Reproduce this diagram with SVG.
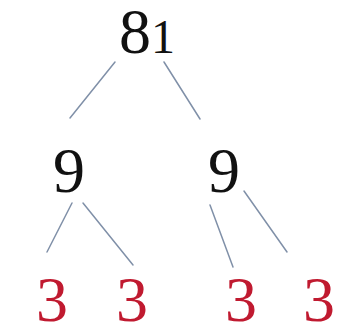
<svg xmlns="http://www.w3.org/2000/svg" width="338" height="327" viewBox="0 0 338 327">
<style>
.n{font-family:"Liberation Serif","Times New Roman",serif;font-size:64px;fill:#111;text-anchor:middle}
.r{fill:#c01a30}
.e{stroke:#8090a8;stroke-width:1.5;fill:none;stroke-linecap:round}
</style>
<rect width="338" height="327" fill="#fff"/>
<g id="connectors">
<line class="e" x1="115" y1="62" x2="70" y2="118"/>
<line class="e" x1="164" y1="62" x2="200" y2="119"/>
<line class="e" x1="72" y1="203" x2="47" y2="252"/>
<line class="e" x1="83" y1="203" x2="133" y2="265"/>
<line class="e" x1="210" y1="205" x2="233" y2="267"/>
<line class="e" x1="244" y1="191" x2="287" y2="252"/>
</g>
<g id="n81"><text class="n" x="147" y="53" font-size="62">8<tspan font-size="48">1</tspan></text></g>
<g id="n9a"><text class="n" x="69" y="192">9</text></g>
<g id="n9b"><text class="n" x="224" y="192">9</text></g>
<g id="n3a"><text class="n r" x="52" y="321">3</text></g>
<g id="n3b"><text class="n r" x="132" y="321">3</text></g>
<g id="n3c"><text class="n r" x="241" y="321">3</text></g>
<g id="n3d"><text class="n r" x="319" y="321">3</text></g>
</svg>
